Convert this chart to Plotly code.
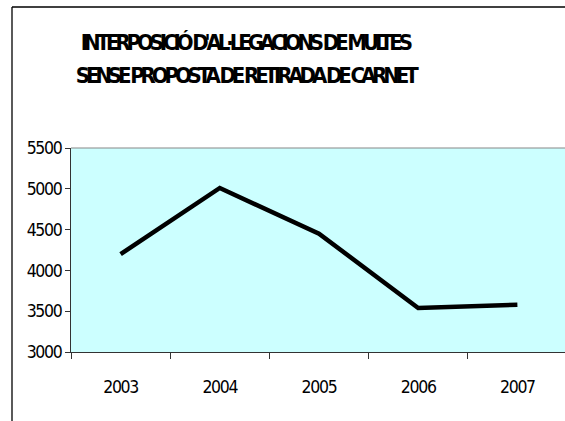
import plotly.graph_objects as go

years = ["2003", "2004", "2005", "2006", "2007"]
values = [4200, 5010, 4450, 3540, 3580]
title_lines = ["INTERPOSICIÓ D'AL·LEGACIONS DE MULTES", "SENSE PROPOSTA DE RETIRADA DE CARNET"]

W, H = 565, 421
L, T, B = 71, 148, 69
plot_h = H - T - B
plot_w = W - L

FONT = "DejaVu Sans Condensed, Liberation Sans, Arial"

fig = go.Figure()
fig.add_trace(go.Scatter(x=years, y=values, mode="lines",
                         line=dict(color="black", width=4.5), showlegend=False))

tick_font = dict(family=FONT, size=17.5, color="black")

fig.update_layout(
    width=W, height=H,
    margin=dict(l=L, r=0, t=T, b=B),
    paper_bgcolor="white",
    plot_bgcolor="#CCFFFF",
    xaxis=dict(type="category", range=[-0.5, 4.48], tickson="boundaries",
               ticks="outside", ticklen=6, tickcolor="#333", showline=True,
               linecolor="#333", linewidth=1, showgrid=False,
               tickfont=tick_font, ticklabelstandoff=19),
    yaxis=dict(range=[3000, 5500], dtick=500, ticks="outside", ticklen=5,
               tickcolor="#333", showline=True, linecolor="#333", linewidth=1,
               showgrid=False, zeroline=False, tickfont=tick_font),
)

# top border of plot area (grey)
fig.add_shape(type="line", xref="paper", yref="paper", x0=0, x1=1, y0=1, y1=1,
              line=dict(color="#888888", width=1.2))

# outer chart border (extends beyond window like reference)
x0 = (12 - L) / plot_w
ytop = (H - B - 7) / plot_h
fig.add_shape(type="line", xref="paper", yref="paper", x0=x0, x1=x0, y0=-1, y1=ytop,
              line=dict(color="black", width=1.3))
fig.add_shape(type="line", xref="paper", yref="paper", x0=x0, x1=1.5, y0=ytop, y1=ytop,
              line=dict(color="black", width=1.3))

for txt, ypx in zip(title_lines, [42, 76]):
    fig.add_annotation(text="<b>" + txt + "</b>", xref="paper", yref="paper",
                       x=(245 - L) / plot_w, y=(H - B - ypx) / plot_h,
                       xanchor="center", yanchor="middle", showarrow=False,
                       font=dict(family=FONT, size=22, color="black"))

post = """
document.body.style.margin='0';
document.body.style.overflow='hidden';
document.querySelectorAll('.annotation-text').forEach(function(t){t.style.letterSpacing='-4.1px';});
document.querySelectorAll('.xtick text, .ytick text').forEach(function(t){t.style.letterSpacing='-1.3px';});
"""

fig.write_html("out.html", post_script=post, config={"displayModeBar": False})
